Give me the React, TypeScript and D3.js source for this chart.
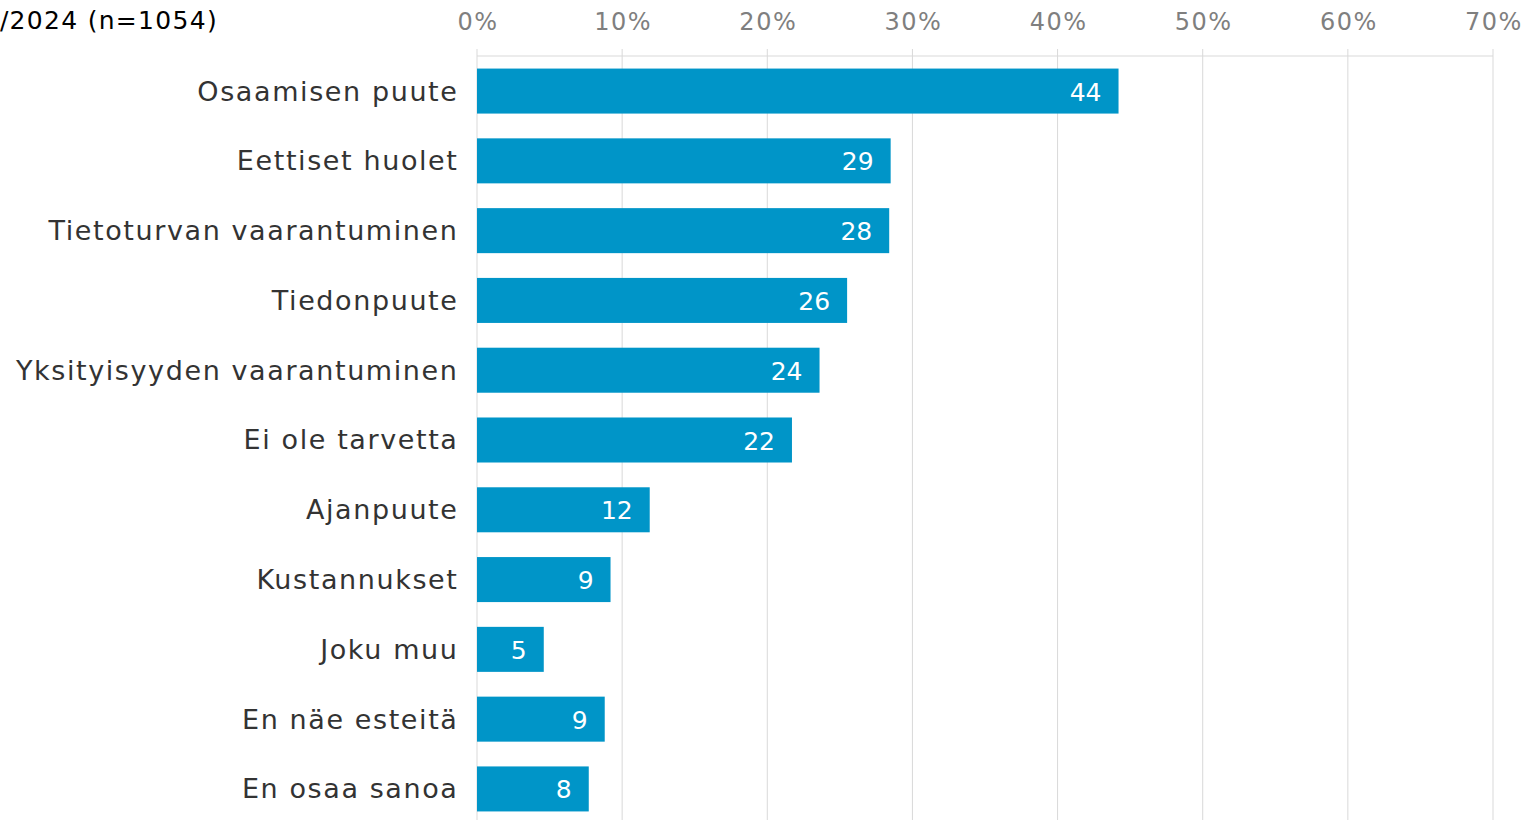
import React from "react";
import * as d3 from "d3";

const categories = [
  "Osaamisen puute",
  "Eettiset huolet",
  "Tietoturvan vaarantuminen",
  "Tiedonpuute",
  "Yksityisyyden vaarantuminen",
  "Ei ole tarvetta",
  "Ajanpuute",
  "Kustannukset",
  "Joku muu",
  "En näe esteitä",
  "En osaa sanoa",
];
const values = [44.2, 28.5, 28.4, 25.5, 23.6, 21.7, 11.9, 9.2, 4.6, 8.8, 7.7];
const ticks = [0, 10, 20, 30, 40, 50, 60, 70];
const title = "/2024 (n=1054)";

const W = 1531;
const H = 820;
const font = "'DejaVu Sans', Verdana, sans-serif";

const App = () => {
  const x = d3.scaleLinear().domain([0, 70]).range([477, 1493]);
  const y = d3.scaleBand<string>().domain(categories).range([56, 824]).paddingInner(0.355).paddingOuter(0.18);

  return (
    <svg width={W} height={H} style={{ position: "absolute", left: 0, top: 0, background: "#fff" }}>
      <text x={218} y={29} textAnchor="end" fontFamily={font} fontSize={25} fill="#000" letterSpacing={1.3}>{title}</text>
      {/* grid + ticks */}
      {ticks.map(t => (
        <g key={t}>
          <line x1={x(t)} x2={x(t)} y1={49} y2={H} stroke="#d9d9d9" strokeWidth={1} />
          <text x={x(t) + 1} y={30} textAnchor="middle" fontFamily={font} fontSize={24} fill="#7f7f7f" letterSpacing={1.5}>{t + "%"}</text>
        </g>
      ))}
      <line x1={x(0)} x2={x(70)} y1={56} y2={56} stroke="#d9d9d9" strokeWidth={1} />
      {categories.map((c, i) => {
        const yy = y(c)!;
        const bw = y.bandwidth();
        return (
          <g key={c}>
            <rect x={x(0)} y={yy} width={x(values[i]) - x(0)} height={bw} fill="#0095c8" />
            <text x={458.5} y={yy + bw / 2} dy="0.35em" textAnchor="end" fontFamily={font} fontSize={27} fill="#333" letterSpacing={1.6}>{c}</text>
            <text x={x(values[i]) - 17} y={yy + bw / 2} dy="0.38em" textAnchor="end" fontFamily={font} fontSize={25} fill="#fff">{Math.round(values[i])}</text>
          </g>
        );
      })}
    </svg>
  );
};

export default App;
